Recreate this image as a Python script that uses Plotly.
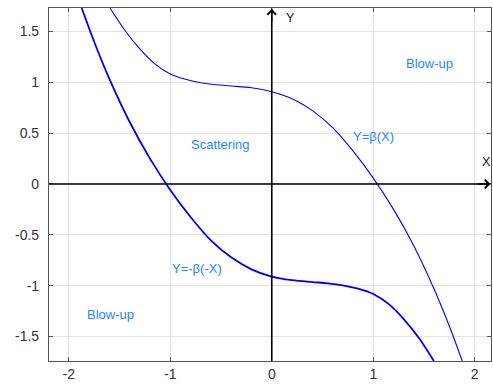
import plotly.graph_objects as go

# Y = beta(X)
beta_x = [-1.594, -1.45, -1.30, -1.15, -1.0, -0.85, -0.70, -0.55, -0.40, -0.20, 0.0, 0.20, 0.40, 0.60, 0.80, 1.0, 1.20, 1.40, 1.60, 1.75, 1.877]
beta_y = [1.732, 1.516, 1.329, 1.18, 1.083, 1.03, 0.997, 0.977, 0.965, 0.947, 0.908, 0.84, 0.722, 0.555, 0.325, 0.058, -0.25, -0.61, -1.035, -1.40, -1.742]

# Y = -beta(-X)
mbeta_x = [-1.873, -1.75, -1.60, -1.40, -1.20, -1.0, -0.80, -0.60, -0.40, -0.20, 0.0, 0.20, 0.40, 0.55, 0.70, 0.85, 1.0, 1.15, 1.30, 1.45, 1.597]
mbeta_y = [1.732, 1.40, 1.035, 0.61, 0.25, -0.058, -0.325, -0.555, -0.722, -0.84, -0.912, -0.947, -0.965, -0.977, -0.997, -1.03, -1.083, -1.18, -1.329, -1.516, -1.742]

x_ticks = [-2, -1, 0, 1, 2]
y_ticks = [-1.5, -1, -0.5, 0, 0.5, 1, 1.5]
y_tick_text = ["-1.5", "-1", "-0.5", "0", "0.5", "1", "1.5"]

x_range = [-2.195, 2.16]
y_range = [-1.742, 1.732]

labels = [
    ("Blow-up", 1.555, 1.19),
    ("Scattering", -0.51, 0.39),
    ("Y=β(X)", 1.0, 0.47),
    ("Y=-β(-X)", -0.74, -0.83),
    ("Blow-up", -1.594, -1.28),
]

fig = go.Figure()
fig.add_trace(go.Scatter(x=beta_x, y=beta_y, mode="lines", line=dict(color="#0000ff", width=1.1, shape="spline", smoothing=0.9), hoverinfo="skip"))
fig.add_trace(go.Scatter(x=mbeta_x, y=mbeta_y, mode="lines", line=dict(color="#0000ee", width=1.8, shape="spline", smoothing=0.9), hoverinfo="skip"))

# main axes lines
fig.add_shape(type="line", xref="x", yref="y", x0=x_range[0], x1=x_range[1] - 0.005, y0=0, y1=0, line=dict(color="black", width=1.6))
fig.add_shape(type="line", xref="x", yref="y", x0=0, x1=0, y0=y_range[0], y1=y_range[1] - 0.005, line=dict(color="black", width=1.6))

# arrowheads
fig.add_annotation(x=x_range[1] - 0.005, y=0, ax=x_range[1] - 0.15, ay=0, xref="x", yref="y", axref="x", ayref="y",
                   showarrow=True, arrowhead=4, arrowsize=1.2, arrowwidth=1.4, arrowcolor="black", text="")
fig.add_annotation(x=0, y=y_range[1] - 0.01, ax=0, ay=y_range[1] - 0.15, xref="x", yref="y", axref="x", ayref="y",
                   showarrow=True, arrowhead=4, arrowsize=1.2, arrowwidth=1.4, arrowcolor="black", text="")
fig.add_annotation(x=2.116, y=0.217, text="X", showarrow=False, font=dict(size=12.5, color="#111", family="Liberation Sans, Arial"))
fig.add_annotation(x=0.18, y=1.634, text="Y", showarrow=False, font=dict(size=12.5, color="#111", family="Liberation Sans, Arial"))

for t, xx, yy in labels:
    fig.add_annotation(x=xx, y=yy, text=t, showarrow=False, font=dict(size=13, color="#1e88ff", family="Liberation Sans, Arial"))

fig.update_layout(
    width=493, height=385,
    margin=dict(l=49, r=2, t=8, b=24),
    paper_bgcolor="white", plot_bgcolor="white",
    showlegend=False,
    font=dict(family="Liberation Sans, Arial", size=14, color="#333"),
)
fig.update_xaxes(range=x_range, tickvals=x_ticks, ticktext=[str(v) for v in x_ticks],
                 showgrid=True, gridcolor="#e3e3e3", gridwidth=1, zeroline=False, automargin=False,
                 showline=True, linecolor="#555", linewidth=1.2, mirror="allticks",
                 ticks="inside", ticklen=4, tickcolor="#555", tickfont=dict(size=14, color="#333"))
fig.update_yaxes(range=y_range, tickvals=y_ticks, ticktext=y_tick_text,
                 showgrid=True, gridcolor="#e3e3e3", gridwidth=1, zeroline=False, automargin=False,
                 showline=True, linecolor="#555", linewidth=1.2, mirror="allticks",
                 ticks="inside", ticklen=4, tickcolor="#555", tickfont=dict(size=14, color="#333"),
                 ticklabelstandoff=6)

fig.write_html("out.html", config={"displayModeBar": False},
               post_script="document.body.style.margin='0';document.body.style.padding='0';")
